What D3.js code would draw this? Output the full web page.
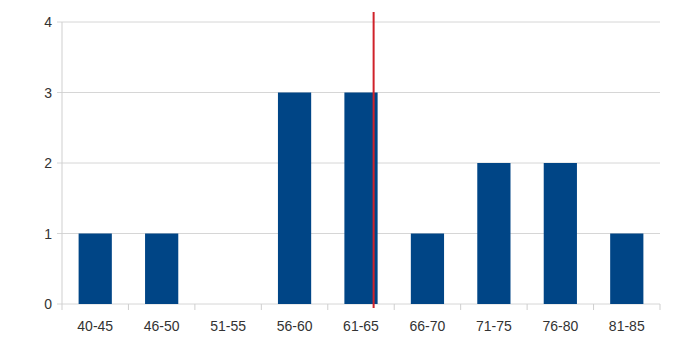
<!DOCTYPE html>
<html>
<head>
<meta charset="utf-8">
<script src="https://cdn.jsdelivr.net/npm/d3@7"></script>
<style>
  body { margin: 0; background: #fff; }
  svg text { font-family: "Liberation Sans", Arial, sans-serif; font-size: 14px; fill: #333; }
</style>
</head>
<body>
<div id="chart"></div>
<script>
const categories = ['40-45', '46-50', '51-55', '56-60', '61-65', '66-70', '71-75', '76-80', '81-85'];
const counts = [1, 1, 0, 3, 3, 1, 2, 2, 1];
const yTicks = [0, 1, 2, 3, 4];
// vertical marker, in category-index units (between band edges)
const markerPos = 4.69;

const width = 700, height = 362;
const margin = { top: 22, right: 40, bottom: 58, left: 62 };
const innerW = width - margin.left - margin.right;
const innerH = height - margin.top - margin.bottom;

const svg = d3.select('#chart')
  .append('svg')
  .attr('width', width)
  .attr('height', height)
  .append('g')
  .attr('transform', `translate(${margin.left},${margin.top})`);

const x = d3.scaleBand()
  .domain(categories)
  .range([0, innerW])
  .paddingInner(0.5)
  .paddingOuter(0.25);

const xPos = d3.scaleLinear()
  .domain([0, categories.length])
  .range([0, innerW]);

const y = d3.scaleLinear()
  .domain([0, 4])
  .range([innerH, 0]);

// gridlines
svg.selectAll('.grid')
  .data(yTicks)
  .enter()
  .append('line')
  .attr('x1', -5)
  .attr('x2', innerW)
  .attr('y1', d => y(d))
  .attr('y2', d => y(d))
  .attr('stroke', '#d6d6d6')
  .attr('stroke-width', 1);

// y axis line
svg.append('line')
  .attr('x1', 0).attr('x2', 0)
  .attr('y1', 0).attr('y2', innerH + 6)
  .attr('stroke', '#cfcfcf');

// x tick marks at band boundaries
svg.selectAll('.xtick')
  .data(d3.range(1, categories.length + 1))
  .enter()
  .append('line')
  .attr('x1', d => xPos(d))
  .attr('x2', d => xPos(d))
  .attr('y1', innerH)
  .attr('y2', innerH + 6)
  .attr('stroke', '#cfcfcf');

// y labels
svg.selectAll('.ylabel')
  .data(yTicks)
  .enter()
  .append('text')
  .attr('x', -10)
  .attr('y', d => y(d) + 5)
  .attr('text-anchor', 'end')
  .text(d => d);

// x labels
svg.selectAll('.xlabel')
  .data(categories)
  .enter()
  .append('text')
  .attr('x', d => x(d) + x.bandwidth() / 2)
  .attr('y', innerH + 27)
  .attr('text-anchor', 'middle')
  .text(d => d);

// bars
svg.selectAll('.bar')
  .data(categories)
  .enter()
  .append('rect')
  .attr('x', d => x(d))
  .attr('width', x.bandwidth())
  .attr('y', (d, i) => y(counts[i]))
  .attr('height', (d, i) => innerH - y(counts[i]))
  .attr('fill', '#004586');

// red marker line
svg.append('line')
  .attr('x1', xPos(markerPos))
  .attr('x2', xPos(markerPos))
  .attr('y1', -10)
  .attr('y2', innerH + 4)
  .attr('stroke', '#d0222a')
  .attr('stroke-width', 2);
</script>
</body>
</html>
